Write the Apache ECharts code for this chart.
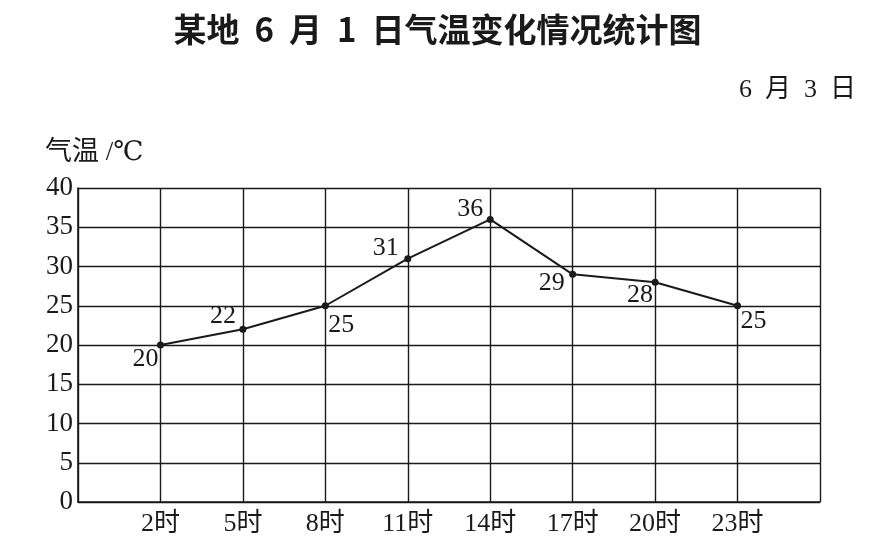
<!DOCTYPE html>
<html><head><meta charset="utf-8">
<script src="https://cdn.jsdelivr.net/npm/echarts@6/dist/echarts.min.js"></script>
<style>html,body{margin:0;padding:0;background:#fff}#c{width:875px;height:559px}</style>
</head><body><div id="c"></div>
<script>
const categories = ['', '2时', '5时', '8时', '11时', '14时', '17时', '20时', '23时', ''];
const temps = [null, 20, 22, 25, 31, 36, 29, 28, 25, null];
const yTicks = [0, 5, 10, 15, 20, 25, 30, 35, 40];
const titleText = '某地 6 月 1 日气温变化情况统计图';
const dateText = '6 月 3 日';
const yName = '气温/℃';

const labelOffsets = [null, [-15, 14], [-20, -13], [16, 19], [-22, -10], [-20, -10], [-21, 9], [-15, 13], [16, 15], null];
const serif = '"Liberation Serif", "DejaVu Serif", "Noto Sans CJK SC", serif';
const ink = '#1a1a1a';

const chart = echarts.init(document.getElementById('c'));
chart.setOption({
  backgroundColor: '#fff',
  animation: false,
  title: [
    { text: titleText.replace(/ /g, '  '), left: 'center', top: 8,
      textStyle: { fontFamily: '"Noto Sans CJK SC", sans-serif', fontWeight: 'bold', fontSize: 33, color: ink } },
    { text: dateText.replace(/ /g, '  '), right: 14, top: 72,
      textStyle: { fontFamily: serif, fontWeight: 'normal', fontSize: 26, color: ink } },
    { text: yName.replace('/', ' /'), left: 40, top: 134,
      textStyle: { fontFamily: serif, fontWeight: 'normal', fontSize: 27, color: ink } }
  ],
  grid: { left: 78, right: 55, top: 188, bottom: 57, containLabel: false },
  xAxis: {
    type: 'category', data: categories, boundaryGap: false,
    axisLine: { show: true, lineStyle: { color: ink, width: 1.6 } },
    axisTick: { show: false },
    splitLine: { show: true, lineStyle: { color: ink, width: 1.4 } },
    axisLabel: { interval: 0, color: ink, fontFamily: serif, fontSize: 26, margin: 9 }
  },
  yAxis: {
    type: 'value', min: yTicks[0], max: yTicks[yTicks.length - 1], interval: yTicks[1] - yTicks[0],
    axisLine: { show: true, lineStyle: { color: ink, width: 1.6 } },
    axisTick: { show: false },
    splitLine: { show: true, lineStyle: { color: ink, width: 1.4 } },
    axisLabel: { color: ink, fontFamily: serif, fontSize: 27, margin: 5 }
  },
  series: [{
    type: 'line',
    data: temps.map((v, i) => v == null ? null : {
      value: v,
      label: { show: true, position: 'inside', offset: labelOffsets[i],
        formatter: '{c}', color: ink, fontFamily: serif, fontSize: 26 }
    }),
    connectNulls: false,
    symbol: 'circle', symbolSize: 7,
    itemStyle: { color: ink },
    lineStyle: { color: ink, width: 2 }
  }]
});
</script></body></html>
